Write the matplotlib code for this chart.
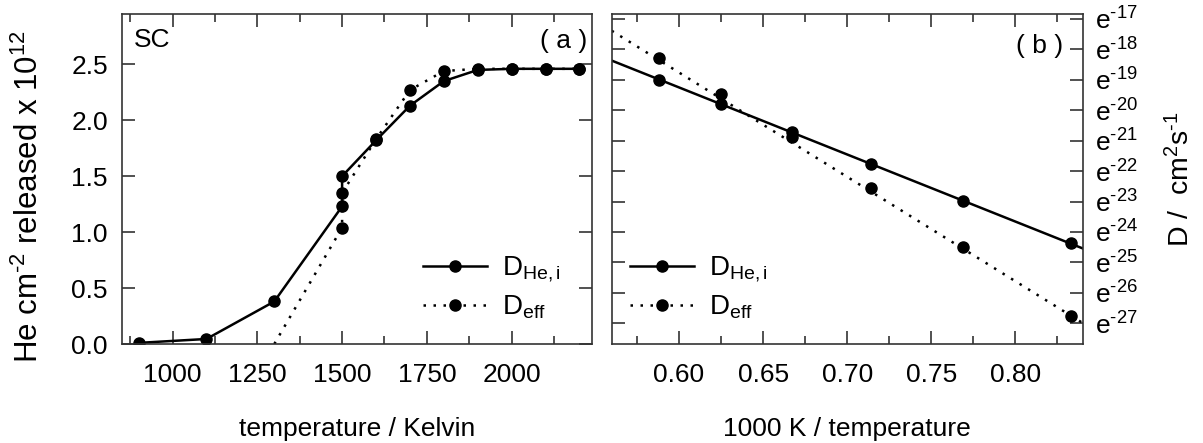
import numpy as np
import matplotlib
matplotlib.use('Agg')
import matplotlib.pyplot as plt
from matplotlib.lines import Line2D
from matplotlib.ticker import FixedLocator, NullLocator

# ---------------- data ----------------
# Panel (a): He released (x 1e12 per cm^2) vs temperature
temp_hei = [900, 1100, 1300, 1500, 1500, 1600, 1700, 1800, 1900, 2000, 2100, 2200]
rel_hei = [0.01, 0.045, 0.38, 1.23, 1.50, 1.82, 2.13, 2.35, 2.45, 2.46, 2.46, 2.46]
temp_eff = [1300, 1500, 1500, 1600, 1700, 1800, 1900, 2000, 2100, 2200]
rel_eff = [0.0, 1.04, 1.35, 1.83, 2.27, 2.44, 2.46, 2.46, 2.46, 2.46]

# Panel (b): ln D vs 1000/T
inv_temp = [0.588, 0.625, 0.667, 0.714, 0.769, 0.833]
lnD_hei = [-19.01, -19.81, -20.70, -21.77, -22.97, -24.37]
lnD_eff = [-18.28, -19.47, -20.87, -22.55, -24.48, -26.76]
fit_inv_temp = [0.56, 0.84]
fit_lnD_hei = [-18.37, -24.54]
fit_lnD_eff = [-17.39, -26.99]

a_xticks = [1000, 1250, 1500, 1750, 2000]
a_xminor = [875, 1125, 1375, 1625, 1875, 2125]
a_yticks = [0.0, 0.5, 1.0, 1.5, 2.0, 2.5]
b_xticks = [0.60, 0.65, 0.70, 0.75, 0.80]
b_xminor = [0.575, 0.625, 0.675, 0.725, 0.775, 0.825]
b_yexps = [-17, -18, -19, -20, -21, -22, -23, -24, -25, -26, -27]

HY = '\u2010'  # short hyphen used as minus in superscripts
label_hei = r'D$_{He,i}$'
label_eff = r'D$_{eff}$'

# ---------------- style ----------------
plt.rcParams['font.family'] = ['Liberation Sans', 'DejaVu Sans']
plt.rcParams['mathtext.fontset'] = 'custom'
plt.rcParams['mathtext.rm'] = 'Liberation Sans'
plt.rcParams['mathtext.it'] = 'Liberation Sans:italic'
plt.rcParams['mathtext.bf'] = 'Liberation Sans:bold'
plt.rcParams['mathtext.default'] = 'regular'

FS = 19
LW = 1.8
MS = 8
DOT = (0, (1, 3))
SPINE = '#333333'

W, H = 1203, 443
fig = plt.figure(figsize=(W / 100, H / 100), dpi=100)

def px_axes(l, r, t, b):
    return [l / W, 1 - b / H, (r - l) / W, (b - t) / H]

axA = fig.add_axes(px_axes(121.7, 592.0, 14, 344))
axB = fig.add_axes(px_axes(611.7, 1082.7, 14, 344))

for ax in (axA, axB):
    for s in ax.spines.values():
        s.set_color(SPINE)
        s.set_linewidth(1.2)
    ax.tick_params(which='both', direction='in', top=True, bottom=True,
                   left=True, right=True, width=1.2, color=SPINE,
                   labelsize=FS)
    ax.tick_params(which='major', length=9.5)
    ax.tick_params(which='minor', length=5.5)
    ax.tick_params(axis='x', pad=14)

# ---------------- panel (a) ----------------
axA.plot(temp_hei, rel_hei, color='k', lw=LW, marker='o', ms=MS)
axA.plot(temp_eff, rel_eff, color='k', lw=LW, ls=DOT, marker='o', ms=MS,
         markevery=list(range(1, len(temp_eff))))
axA.set_xlim(850, 2237)
axA.set_ylim(0, 2.95)
axA.xaxis.set_major_locator(FixedLocator(a_xticks))
axA.xaxis.set_minor_locator(FixedLocator(a_xminor))
axA.yaxis.set_major_locator(FixedLocator(a_yticks))
axA.yaxis.set_minor_locator(NullLocator())
axA.set_yticklabels([f'{v:.1f}' for v in a_yticks])
axA.tick_params(axis='y', pad=10)

axA.text(0.026, (344 - 47) / 330, 'SC', transform=axA.transAxes,
         fontsize=FS, ha='left', va='baseline')
axA.text(0.990, (344 - 48) / 330, '( a )', transform=axA.transAxes,
         fontsize=FS, ha='right', va='baseline')

h_hei = Line2D([], [], color='k', lw=LW, marker='o', ms=MS)
h_eff = Line2D([], [], color='k', lw=LW, ls=DOT, marker='o', ms=MS)

legA = axA.legend([h_hei, h_eff], [label_hei, label_eff], loc='center left',
                  bbox_to_anchor=((423 - 121.7) / 470.3, (344 - 288) / 330),
                  frameon=False, fontsize=20, handlelength=2.3,
                  handletextpad=0.55, labelspacing=0.35, borderpad=0,
                  borderaxespad=0)

# ---------------- panel (b) ----------------
axB.set_yscale('log', base=np.e)
axB.plot(fit_inv_temp, np.exp(fit_lnD_hei), color='k', lw=LW)
axB.plot(fit_inv_temp, np.exp(fit_lnD_eff), color='k', lw=LW, ls=DOT)
axB.plot(inv_temp, np.exp(lnD_hei), ls='none', color='k', marker='o', ms=MS)
axB.plot(inv_temp, np.exp(lnD_eff), ls='none', color='k', marker='o', ms=MS)
axB.set_xlim(0.56, 0.84)
axB.set_ylim(np.exp(-27.68), np.exp(-16.84))
axB.xaxis.set_major_locator(FixedLocator(b_xticks))
axB.xaxis.set_minor_locator(FixedLocator(b_xminor))
axB.set_xticklabels([f'{v:.2f}' for v in b_xticks])
axB.yaxis.set_major_locator(FixedLocator(list(np.exp(b_yexps))))
axB.yaxis.set_minor_locator(NullLocator())
axB.set_yticklabels(['e$^{' + HY + f'{-e}' + '}$' for e in b_yexps])
axB.tick_params(axis='y', labelleft=False, labelright=True, pad=9)

axB.text(0.958, (344 - 53) / 330, '( b )', transform=axB.transAxes,
         fontsize=FS, ha='right', va='baseline')

legB = axB.legend([h_hei, h_eff], [label_hei, label_eff], loc='center left',
                  bbox_to_anchor=((630 - 611.7) / 471, (344 - 288) / 330),
                  frameon=False, fontsize=20, handlelength=2.3,
                  handletextpad=0.55, labelspacing=0.35, borderpad=0,
                  borderaxespad=0)

# ---------------- axis labels ----------------
fig.text(357 / W, 1 - 429 / H, 'temperature / Kelvin', fontsize=FS,
         ha='center', va='center')
fig.text(847 / W, 1 - 429 / H, '1000 K / temperature', fontsize=FS,
         ha='center', va='center')
fig.text(29 / W, 1 - 197 / H,
         'He cm$^{' + HY + '2}$ released x 10$^{12}$',
         fontsize=22.5, rotation=90, ha='center', va='center')
fig.text(1181 / W, 1 - 179 / H, 'D /  cm$^{2}$s$^{' + HY + '1}$',
         fontsize=20.5, rotation=90, ha='center', va='center')

fig.savefig('out.png', dpi=100)
